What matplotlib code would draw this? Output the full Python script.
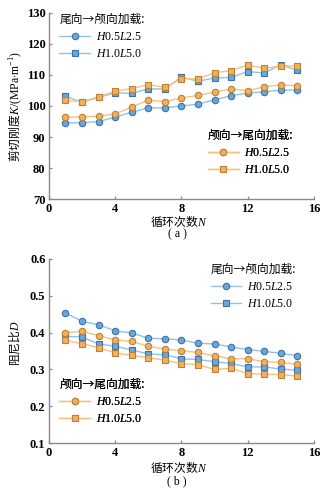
''' shear stiffness and damping ratio vs loading cycles, two loading directions '''

import numpy as np
import matplotlib
matplotlib.use('Agg')
import matplotlib.pyplot as plt
from matplotlib.lines import Line2D

plt.rcParams['mathtext.fontset'] = 'custom'
plt.rcParams['mathtext.rm'] = 'Liberation Serif'
plt.rcParams['mathtext.it'] = 'Liberation Serif:italic'
plt.rcParams['mathtext.bf'] = 'Liberation Serif:bold'

CJK = 'Noto Sans CJK SC'
SERIF = 'Liberation Serif'

cycles = np.arange(1, 16)

# shear stiffness K (MPa/m)
k_tail_h05 = [94.6, 94.6, 95.0, 96.4, 98.0, 99.4, 99.4, 100.0, 100.6, 102.0, 103.3, 104.2, 104.6, 105.1, 105.1]
k_tail_h10 = [103.1, 101.2, 102.8, 104.2, 104.1, 105.5, 105.5, 109.3, 108.0, 109.0, 109.2, 111.1, 110.6, 113.3, 111.5]
k_head_h05 = [96.4, 96.5, 96.7, 97.5, 99.6, 101.9, 101.4, 102.6, 103.4, 104.5, 105.5, 104.9, 106.2, 106.8, 106.5]
k_head_h10 = [101.8, 101.4, 102.9, 104.8, 105.6, 106.9, 106.0, 108.8, 108.7, 110.7, 111.4, 113.2, 112.1, 112.9, 112.9]

# damping ratio D
d_tail_h05 = [0.453, 0.431, 0.421, 0.405, 0.399, 0.385, 0.383, 0.380, 0.371, 0.369, 0.361, 0.354, 0.349, 0.344, 0.337]
d_tail_h10 = [0.390, 0.388, 0.369, 0.363, 0.353, 0.342, 0.340, 0.329, 0.327, 0.321, 0.316, 0.307, 0.307, 0.301, 0.298]
d_head_h05 = [0.400, 0.403, 0.392, 0.380, 0.376, 0.363, 0.355, 0.351, 0.346, 0.337, 0.329, 0.329, 0.321, 0.319, 0.314]
d_head_h10 = [0.379, 0.370, 0.359, 0.345, 0.338, 0.332, 0.325, 0.316, 0.313, 0.300, 0.303, 0.289, 0.287, 0.286, 0.282]

labels = [r'$H$0.5$L$2.5', r'$H$1.0$L$5.0']
title_tail = '尾向→颅向加载:'
title_head = '颅向→尾向加载:'

blue = dict(line='#8fc3ea', face='#6aa6d8', edge='#3d72a8')
orange = dict(line='#f7c27e', face='#f3b05c', edge='#b98236')


def draw_series(ax, y, col, marker):
    ax.plot(cycles, y, color=col['line'], lw=1.0, marker=marker, ms=4.6,
            mfc=col['face'], mec=col['edge'], mew=0.8, zorder=3)


def make_handles(col):
    return [Line2D([], [], color=col['line'], lw=1.0, marker=m, ms=4.6,
                   mfc=col['face'], mec=col['edge'], mew=0.8) for m in ['o', 's']]


def add_legend(ax, handles, title, anchor):
    leg = ax.legend(handles, labels, title=title, loc='upper left', bbox_to_anchor=anchor,
                    frameon=False, borderpad=0, borderaxespad=0, handlelength=2.6,
                    handletextpad=0.5, labelspacing=0.45,
                    prop={'family': SERIF, 'size': 8.5},
                    title_fontproperties={'family': CJK, 'size': 8.5},
                    alignment='left')
    ax.add_artist(leg)
    return leg


def style_axes(ax):
    for s in ['top', 'right']:
        ax.spines[s].set_visible(False)
    for s in ['left', 'bottom']:
        ax.spines[s].set_color('#8a8a8a')
        ax.spines[s].set_linewidth(1.0)
    ax.tick_params(direction='in', length=2.5, width=0.9, color='#8a8a8a',
                   labelsize=9)
    ax.tick_params(axis='x', pad=2.5)
    ax.tick_params(axis='y', pad=2.5)
    for t in ax.get_xticklabels() + ax.get_yticklabels():
        t.set_fontfamily(SERIF)
        t.set_fontweight('bold')


fig = plt.figure(figsize=(3.28, 4.93), dpi=100)
ax1 = fig.add_axes([0.149, 0.596, 0.808, 0.378])
ax2 = fig.add_axes([0.149, 0.101, 0.808, 0.374])

# (a) shear stiffness
draw_series(ax1, k_tail_h05, blue, 'o')
draw_series(ax1, k_tail_h10, blue, 's')
draw_series(ax1, k_head_h05, orange, 'o')
draw_series(ax1, k_head_h10, orange, 's')
ax1.set_xlim(0, 16)
ax1.set_ylim(70, 130)
ax1.set_xticks([0, 4, 8, 12, 16])
ax1.set_yticks(range(70, 131, 10))
style_axes(ax1)
add_legend(ax1, make_handles(blue), title_tail, (0.04, 1.0))
add_legend(ax1, make_handles(orange), title_head, (0.60, 0.38))

# (b) damping ratio
draw_series(ax2, d_tail_h05, blue, 'o')
draw_series(ax2, d_tail_h10, blue, 's')
draw_series(ax2, d_head_h05, orange, 'o')
draw_series(ax2, d_head_h10, orange, 's')
ax2.set_xlim(0, 16)
ax2.set_ylim(0.1, 0.6)
ax2.set_xticks([0, 4, 8, 12, 16])
ax2.set_yticks([0.1, 0.2, 0.3, 0.4, 0.5, 0.6])
ax2.set_yticklabels(['0.1', '0.2', '0.3', '0.4', '0.5', '0.6'])
style_axes(ax2)
add_legend(ax2, make_handles(blue), title_tail, (0.61, 0.98))
add_legend(ax2, make_handles(orange), title_head, (0.04, 0.355))

# axis labels and captions
fig.text(0.046, 0.785, r'剪切刚度$K/(\mathrm{MPa{\cdot}m}^{-1})$', rotation=90,
         ha='center', va='center', family=CJK, size=8.5)
fig.text(0.042, 0.304, r'阻尼比$D$', rotation=90, ha='center', va='center',
         family=CJK, size=8.5)
fig.text(0.545, 0.550, r'循环次数$N$', ha='center', va='center', family=CJK, size=8.5)
fig.text(0.545, 0.051, r'循环次数$N$', ha='center', va='center', family=CJK, size=8.5)
fig.text(0.54, 0.524, '( a )', ha='center', va='center', family=SERIF, size=8.5)
fig.text(0.54, 0.023, '( b )', ha='center', va='center', family=SERIF, size=8.5)

fig.savefig('out.png', dpi=100)
